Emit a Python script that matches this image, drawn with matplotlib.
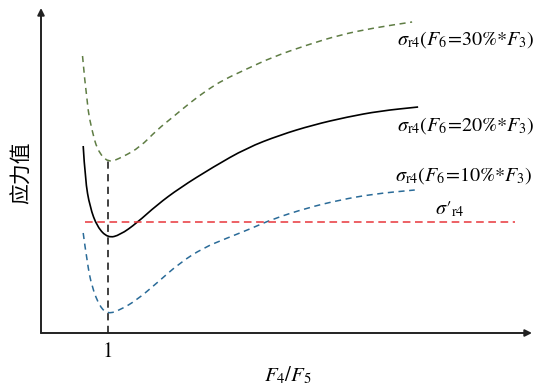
import matplotlib.pyplot as plt
import numpy as np
from matplotlib.path import Path
from matplotlib.patches import PathPatch

plt.rcParams['font.family'] = ['Noto Sans CJK SC', 'DejaVu Sans']
plt.rcParams['mathtext.fontset'] = 'stix'

# curve values (arbitrary units)
x30 = [0.62, 0.69, 0.76, 0.84, 1.0, 1.22, 1.48, 1.73, 1.97, 2.22, 2.48, 2.72, 3.07, 3.46, 3.97, 4.46, 4.96, 5.54]
y30 = [27.7, 22.6, 20.3, 18.3, 17.0, 17.6, 18.6, 20.3, 21.6, 23.0, 24.3, 25.3, 26.4, 27.6, 28.8, 29.8, 30.5, 31.1]

x20 = [0.63, 0.66, 0.73, 0.84, 1.0, 1.18, 1.43, 1.73, 2.07, 2.57, 3.07, 3.57, 4.06, 4.57, 5.06, 5.63]
y20 = [18.7, 15.3, 12.6, 10.6, 9.5, 9.8, 11.0, 12.8, 14.5, 16.6, 18.5, 19.8, 20.8, 21.6, 22.2, 22.6]

x10 = [0.63, 0.69, 0.76, 0.88, 1.0, 1.18, 1.43, 1.73, 2.07, 2.42, 2.78, 3.12, 3.46, 3.97, 4.46, 4.96, 5.58]
y10 = [10.0, 7.0, 4.6, 2.6, 1.9, 2.3, 3.3, 5.0, 7.0, 8.5, 9.5, 10.4, 11.4, 12.5, 13.3, 13.9, 14.3]

limit_x = [0.66, 7.07]
limit_y = 11.1
x_mark = 1.0
x_mark_top = 17.2

labels = [r"$\sigma_{\rm r4}(F_6\!=\!30\%{*}F_3)$",
          r"$\sigma_{\rm r4}(F_6\!=\!20\%{*}F_3)$",
          r"$\sigma_{\rm r4}(F_6\!=\!10\%{*}F_3)$",
          r"$\sigma{\prime}_{\rm r4}$"]
label_x = [5.31, 5.31, 5.28, 5.88]
label_y = [29.4, 20.8, 15.8, 12.4]


def smooth(ax, xs, ys, **kw):
    # quadratic b-spline through the read points, drawn as a path
    p = np.column_stack([xs, ys])
    verts = [p[0]]
    codes = [Path.MOVETO]
    for i in range(1, len(p) - 1):
        verts += [p[i], (p[i] + p[i + 1]) / 2]
        codes += [Path.CURVE3, Path.CURVE3]
    verts.append(p[-1])
    codes.append(Path.LINETO)
    ax.add_patch(PathPatch(Path(verts, codes), fill=False, **kw))


fig = plt.figure(figsize=(5.33, 3.86), dpi=100)
ax = fig.add_axes([41/533, 53/386, 491/533, 325/386])
ax.set_xlim(0, 7.33)
ax.set_ylim(0, 32.5)

smooth(ax, x30, y30, edgecolor='#5f7d44', lw=1.1, linestyle=(0, (4, 3)))
smooth(ax, x20, y20, edgecolor='black', lw=1.2)
smooth(ax, x10, y10, edgecolor='#2a6b98', lw=1.1, linestyle=(0, (4, 3)))
ax.plot(limit_x, [limit_y, limit_y], color='#e8363a', lw=1.1, dashes=(5, 3))
ax.plot([x_mark, x_mark], [0, x_mark_top], color='#333333', lw=1.3, dashes=(4, 3))

for s, lx, ly in zip(labels, label_x, label_y):
    ax.text(lx, ly, s, fontsize=14.5, va='center', ha='left')

for sp in ax.spines.values():
    sp.set_visible(False)
ax.annotate('', xy=(1.0, 0), xytext=(0, 0), xycoords='axes fraction',
            arrowprops=dict(arrowstyle='-|>', color='#222222', lw=1.4,
                            mutation_scale=10, shrinkA=0, shrinkB=0))
ax.annotate('', xy=(0, 1.0), xytext=(0, 0), xycoords='axes fraction',
            arrowprops=dict(arrowstyle='-|>', color='#222222', lw=1.4,
                            mutation_scale=10, shrinkA=0, shrinkB=0))

ax.set_xticks([x_mark])
ax.set_xticklabels(['1'], fontfamily='STIXGeneral', fontsize=15)
ax.tick_params(axis='x', length=0, pad=7)
ax.set_yticks([])
fig.text(288/533, 1 - 381/386, r"$F_4/F_5$", fontsize=15, ha='center', va='baseline')
fig.text(22/533, 1 - 173/386, "应力值", fontsize=15, rotation=90, ha='center', va='center')

fig.savefig('out.png', dpi=100)
